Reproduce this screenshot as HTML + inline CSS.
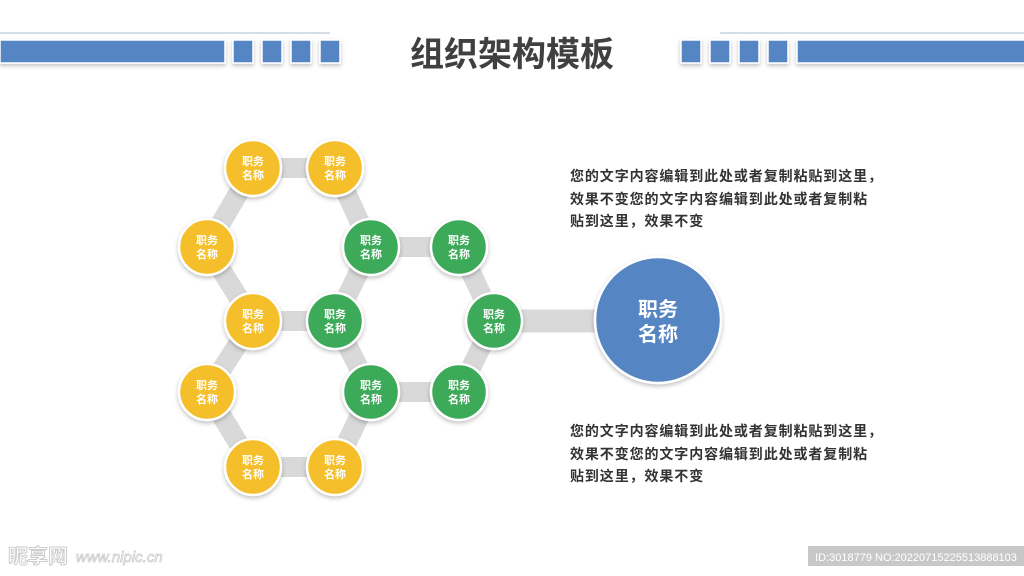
<!DOCTYPE html>
<html><head><meta charset="utf-8"><style>
body{margin:0;width:1024px;height:576px;background:#fff;overflow:hidden;font-family:"Liberation Sans","Noto Sans CJK SC",sans-serif;}
svg{position:absolute;left:0;top:0}
</style></head><body>
<svg width="1024" height="576" viewBox="0 0 1024 576" font-family="Liberation Sans, Noto Sans CJK SC, sans-serif">
<defs>
<filter id="sh" x="-20%" y="-20%" width="140%" height="150%"><feDropShadow dx="0" dy="2" stdDeviation="2" flood-color="#000" flood-opacity="0.25"/></filter>
</defs>
<line x1="0" y1="33" x2="330" y2="33" stroke="#aab8cc" stroke-width="1"/>
<line x1="720" y1="33" x2="1024" y2="33" stroke="#aab8cc" stroke-width="1"/>
<g fill="#5585c3" stroke="#fff" stroke-width="1.5" filter="url(#sh)">
<rect x="0" y="40" width="225" height="23"/>
<rect x="233" y="40" width="20" height="23"/><rect x="262" y="40" width="20" height="23"/><rect x="291" y="40" width="20" height="23"/><rect x="320" y="40" width="20" height="23"/>
<rect x="681" y="40" width="20" height="23"/><rect x="710" y="40" width="20" height="23"/><rect x="739" y="40" width="20" height="23"/><rect x="768" y="40" width="20" height="23"/>
<rect x="797" y="40" width="230" height="23"/>
</g>
<text x="512" y="66" text-anchor="middle" font-size="34" font-weight="bold" fill="#404040">组织架构模板</text>
<g stroke="#d9d9d9" stroke-width="20" stroke-linecap="butt" fill="none">
<polyline points="253,168 335,168 371,247 335,321 253,321 207,247 253,168"/>
<polyline points="253,321 207,392 253,467 335,467 371,392 335,321"/>
<polyline points="371,247 459,247 494,321 459,392 371,392"/>
<line x1="494" y1="321" x2="610" y2="321" stroke-width="23"/>
</g>
<g stroke="#fff" stroke-width="2.5" filter="url(#sh)">
<g fill="#f4bf2a">
<circle cx="253" cy="168" r="28"/><circle cx="335" cy="168" r="28"/><circle cx="207" cy="247" r="28"/><circle cx="253" cy="321" r="28"/><circle cx="207" cy="392" r="28"/><circle cx="253" cy="467" r="28"/><circle cx="335" cy="467" r="28"/>
</g>
<g fill="#3daa5a">
<circle cx="371" cy="247" r="28"/><circle cx="459" cy="247" r="28"/><circle cx="335" cy="321" r="28"/><circle cx="494" cy="321" r="28"/><circle cx="371" cy="392" r="28"/><circle cx="459" cy="392" r="28"/>
</g>
<circle cx="658" cy="320" r="63" fill="#5585c3"/>
</g>
<g fill="#fff" font-size="11" font-weight="bold" text-anchor="middle">
<text x="253" y="165">职务</text><text x="253" y="179">名称</text>
<text x="335" y="165">职务</text><text x="335" y="179">名称</text>
<text x="207" y="244">职务</text><text x="207" y="258">名称</text>
<text x="253" y="318">职务</text><text x="253" y="332">名称</text>
<text x="207" y="389">职务</text><text x="207" y="403">名称</text>
<text x="253" y="464">职务</text><text x="253" y="478">名称</text>
<text x="335" y="464">职务</text><text x="335" y="478">名称</text>
<text x="371" y="244">职务</text><text x="371" y="258">名称</text>
<text x="459" y="244">职务</text><text x="459" y="258">名称</text>
<text x="335" y="318">职务</text><text x="335" y="332">名称</text>
<text x="494" y="318">职务</text><text x="494" y="332">名称</text>
<text x="371" y="389">职务</text><text x="371" y="403">名称</text>
<text x="459" y="389">职务</text><text x="459" y="403">名称</text>
<text x="658" y="316" font-size="20">职务</text><text x="658" y="341" font-size="20">名称</text>
</g>
<g fill="#333" font-size="14" font-weight="bold" letter-spacing="0.9">
<text x="570" y="181">您的文字内容编辑到此处或者复制粘贴到这里，</text>
<text x="570" y="204">效果不变您的文字内容编辑到此处或者复制粘</text>
<text x="570" y="226">贴到这里，效果不变</text>
<text x="570" y="436">您的文字内容编辑到此处或者复制粘贴到这里，</text>
<text x="570" y="459">效果不变您的文字内容编辑到此处或者复制粘</text>
<text x="570" y="481">贴到这里，效果不变</text>
</g>
<text x="8" y="563" font-size="20" font-weight="bold" fill="#fff" stroke="#ccc" stroke-width="1">昵享网</text>
<text x="76" y="562" font-size="15" font-style="italic" fill="#fff" stroke="#ccc" stroke-width="0.8">www.nipic.cn</text>
<rect x="808" y="546" width="216" height="20" fill="#c8c8c8"/>
<text x="916" y="561" font-size="11" fill="#fff" text-anchor="middle">ID:3018779 NO:20220715225513888103</text>
</svg>
</body></html>
